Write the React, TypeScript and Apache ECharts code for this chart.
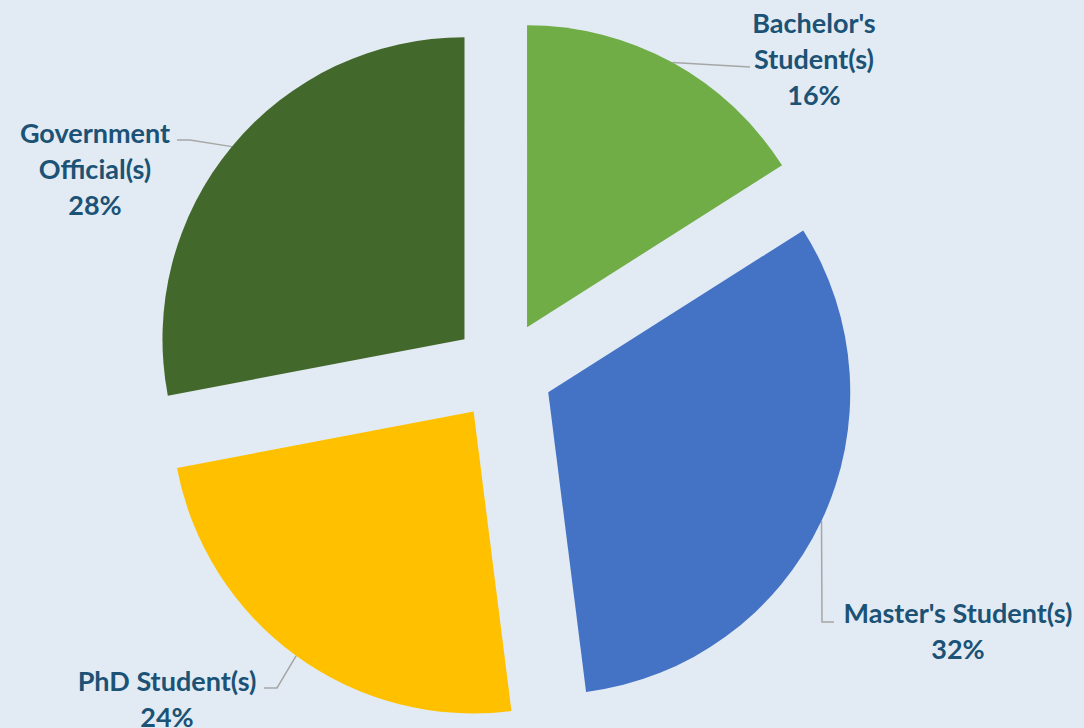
import React, { useEffect, useRef } from "react";
import * as echarts from "echarts";

const categories = ["Bachelor's\nStudent(s)", "Master's Student(s)", "PhD Student(s)", "Government\nOfficial(s)"];
const values = [16, 32, 24, 28];
const colors = ["#70AD47", "#4472C4", "#FFC000", "#43682B"];
// label block centres and leader-line bends
const labelPos: [number, number][] = [[814, 58], [958, 630], [167, 698], [95, 168]];
const linePts: [number, number][][] = [
  [[750, 67]],
  [[822, 622], [834, 622]],
  [[277, 688], [264, 688]],
  [[190, 140], [177, 140]],
];

const CX = 503;
const CY = 371;
const R = 302;
const EXPLODE = 50;

export default function App() {
  const ref = useRef<HTMLDivElement>(null);
  useEffect(() => {
    if (!ref.current) return;
    const chart = echarts.init(ref.current, undefined, { renderer: "svg" });
    const total = values.reduce((a, b) => a + b, 0);
    let cum = 0;
    const series = values.map((v, i) => {
      const midFrac = (cum + v / 2) / total;
      cum += v;
      const ang = (90 - midFrac * 360) * (Math.PI / 180);
      const cx = CX + EXPLODE * Math.cos(ang);
      const cy = CY - EXPLODE * Math.sin(ang);
      return {
        type: "pie",
        center: [cx, cy],
        radius: R,
        startAngle: 90,
        clockwise: true,
        silent: true,
        emphasis: { disabled: true },
        itemStyle: { borderWidth: 0 },
        labelLayout: (params: any) => {
          if (params.dataIndex !== i) return {};
          const p0 = params.labelLinePoints ? params.labelLinePoints[0] : null;
          return {
            x: labelPos[i][0],
            y: labelPos[i][1],
            align: "center",
            verticalAlign: "middle",
            labelLinePoints: p0 ? [p0, ...linePts[i]] : undefined,
          };
        },
        data: categories.map((c, j) => ({
          name: c,
          value: values[j],
          itemStyle: { color: j === i ? colors[j] : "transparent" },
          label: {
            show: j === i,
            position: "outside",
            formatter: (p: any) => `${p.name}\n${p.value}%`,
            fontFamily: "Lato",
            fontWeight: "bold",
            fontSize: 27,
            lineHeight: 36,
            width: 320,
            overflow: "none",
            color: "#1B5275",
            align: "center",
          },
          labelLine: { show: j === i, lineStyle: { color: "#A6A6A6", width: 1.5 } },
        })),
      };
    });
    chart.setOption({
      animation: false,
      backgroundColor: "#E2EBF3",
      series,
    });
    return () => chart.dispose();
  }, []);
  return <div ref={ref} style={{ position: "absolute", left: 0, top: 0, width: 1084, height: 728 }} />;
}
